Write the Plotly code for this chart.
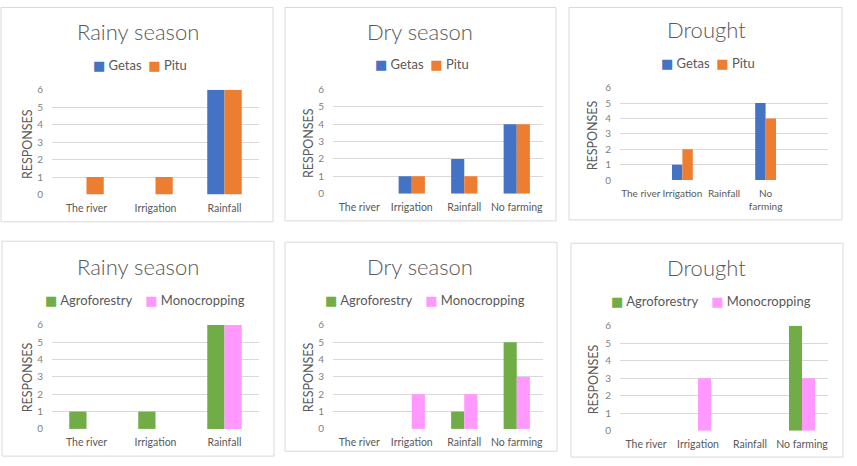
import plotly.graph_objects as go

W, H = 857, 466

cats3 = ["The river", "Irrigation", "Rainfall"]
cats4 = ["The river", "Irrigation", "Rainfall", "No farming"]
cats4_wrap = ["The river", "Irrigation", "Rainfall", "No<br>farming"]

rainy_getas = [0, 0, 6]
rainy_pitu = [1, 1, 6]
dry_getas = [0, 1, 2, 4]
dry_pitu = [0, 1, 1, 4]
drought_getas = [0, 1, 0, 5]
drought_pitu = [0, 2, 0, 4]

rainy_agro = [1, 1, 6]
rainy_mono = [0, 0, 6]
dry_agro = [0, 0, 1, 5]
dry_mono = [0, 2, 2, 3]
drought_agro = [0, 0, 0, 6]
drought_mono = [0, 3, 0, 3]

titles = ["Rainy season", "Dry season", "Drought", "Rainy season", "Dry season", "Drought"]
names_top = ["Getas", "Pitu"]
names_bot = ["Agroforestry", "Monocropping"]
colors_top = ["#4472C4", "#ED7D31"]
colors_bot = ["#70AD47", "#FF99FF"]

panels = [
    dict(box=(1, 0.5, 273, 221), plot=(52, 85, 259, 193), title=(138, 25), leg=(140, 60), ylab=(27, 141),
         cats=cats3, series=[rainy_getas, rainy_pitu], names=names_top, colors=colors_top, xr=None,
         gap="&nbsp;&nbsp;", tfs=10.5),
    dict(box=(285, 0.5, 556, 220), plot=(333, 85, 543, 192), title=(420, 25), leg=(422, 59), ylab=(308, 140),
         cats=cats4, series=[dry_getas, dry_pitu], names=names_top, colors=colors_top, xr=None,
         gap="&nbsp;&nbsp;", tfs=10.5),
    dict(box=(569, 0.5, 842, 219), plot=(620, 83, 828, 178), title=(706, 23), leg=(708, 58), ylab=(592, 132),
         cats=cats4_wrap, series=[drought_getas, drought_pitu], names=names_top, colors=colors_top, xr=[-0.5, 4.5],
         gap="&nbsp;&nbsp;", tfs=10),
    dict(box=(2, 241, 274, 462), plot=(52, 327, 259, 434), title=(138, 267), leg=(145, 301), ylab=(27, 381),
         cats=cats3, series=[rainy_agro, rainy_mono], names=names_bot, colors=colors_bot, xr=None,
         gap="&nbsp;&nbsp;&nbsp;&nbsp;", tfs=10.5),
    dict(box=(285, 242, 557, 457), plot=(333, 327, 543, 434), title=(420, 267), leg=(425, 301), ylab=(308, 381),
         cats=cats4, series=[dry_agro, dry_mono], names=names_bot, colors=colors_bot, xr=None,
         gap="&nbsp;&nbsp;&nbsp;&nbsp;", tfs=10.5),
    dict(box=(571, 243, 843, 463), plot=(620, 328, 828, 436), title=(706, 268), leg=(711, 302), ylab=(593, 383),
         cats=cats4, series=[drought_agro, drought_mono], names=names_bot, colors=colors_bot, xr=None,
         gap="&nbsp;&nbsp;&nbsp;&nbsp;", tfs=10.5),
]

FONT = "Lato"
fx = lambda px: px / W
fy = lambda py: 1 - py / H

fig = go.Figure()
layout = dict(width=W, height=H, margin=dict(l=0, r=0, t=0, b=0),
              paper_bgcolor="white", plot_bgcolor="white", barmode="group",
              bargap=0.5, bargroupgap=0, font=dict(family=FONT, color="#595959"),
              shapes=[], annotations=[], showlegend=False)

for i, p in enumerate(panels):
    n = i + 1
    xa = "x" if n == 1 else f"x{n}"
    ya = "y" if n == 1 else f"y{n}"
    for s, nm, c in zip(p["series"], p["names"], p["colors"]):
        fig.add_trace(go.Bar(x=p["cats"], y=s, name=nm, marker=dict(color=c, line=dict(width=0)),
                             xaxis=xa, yaxis=ya, offsetgroup=nm))
    x0, y0, x1, y1 = p["plot"]
    xkey = "xaxis" if n == 1 else f"xaxis{n}"
    ykey = "yaxis" if n == 1 else f"yaxis{n}"
    xd = dict(domain=[fx(x0), fx(x1)], anchor=ya, type="category", showgrid=False,
              showline=False, ticks="", tickangle=0, ticklabelstandoff=6,
              tickfont=dict(size=p["tfs"], color="#595959", family=FONT),
              fixedrange=True)
    if p["xr"]:
        xd["range"] = p["xr"]
    layout[xkey] = xd
    layout[ykey] = dict(domain=[fy(y1), fy(y0)], anchor=xa, range=[0, 6], dtick=1,
                        showgrid=True, gridcolor="#D9D9D9", gridwidth=1, zeroline=False,
                        showline=False, ticks="", tickfont=dict(size=10, color="#7F7F7F", family=FONT),
                        ticklabelstandoff=8)
    bx0, by0, bx1, by1 = p["box"]
    layout["shapes"].append(dict(type="rect", xref="paper", yref="paper",
                                 x0=fx(bx0), x1=fx(bx1), y0=fy(by1), y1=fy(by0),
                                 line=dict(color="#D9D9D9", width=1), fillcolor="rgba(0,0,0,0)", layer="below"))
    layout["annotations"].append(dict(text=titles[i], x=fx(p["title"][0]), y=fy(p["title"][1]),
                                      xref="paper", yref="paper", xanchor="center", yanchor="middle",
                                      showarrow=False, font=dict(size=22, color="#595959", family=FONT, weight=300)))
    layout["annotations"].append(dict(text="RESPONSES", x=fx(p["ylab"][0]), y=fy(p["ylab"][1]),
                                      xref="paper", yref="paper", xanchor="center", yanchor="middle",
                                      textangle=-90, showarrow=False,
                                      font=dict(size=12.5, color="#595959", family=FONT)))
    leg_text = p["gap"].join(
        f"<span style='color:{c}; font-family:DejaVu Sans'>■</span> {nm}"
        for nm, c in zip(p["names"], p["colors"]))
    layout["annotations"].append(dict(text=leg_text, x=fx(p["leg"][0]), y=fy(p["leg"][1]),
                                      xref="paper", yref="paper", xanchor="center", yanchor="middle",
                                      showarrow=False, font=dict(size=13, color="#595959", family=FONT)))

fig.update_layout(**layout)
fig.write_html("out.html")
